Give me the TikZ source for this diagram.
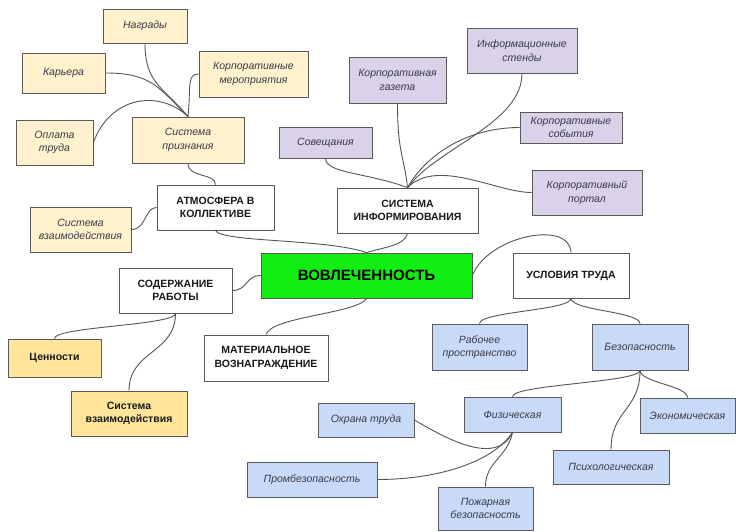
\documentclass[tikz,border=0pt]{standalone}
\usepackage{fontspec}
\setmainfont{Liberation Sans}
\definecolor{yelL}{HTML}{FFF2CC}
\definecolor{orgB}{HTML}{FFE599}
\definecolor{purL}{HTML}{D9D2E9}
\definecolor{bluL}{HTML}{C9DAF8}
\definecolor{grnB}{HTML}{11EE11}
\definecolor{bordcol}{HTML}{5A5A5A}
\definecolor{conncol}{HTML}{555555}
\definecolor{itcol}{HTML}{3A3A4A}
\tikzset{
  box/.style={draw=bordcol, line width=0.8pt, align=center, inner sep=2pt},
  itbox/.style={box, text=itcol, font=\itshape\fontsize{10.5}{13.5}\selectfont},
  bfbox/.style={box, text=black!90, font=\bfseries\fontsize{10.5}{13.5}\selectfont},
  yleaf/.style={itbox, fill=yelL},
  pleaf/.style={itbox, fill=purL},
  bleaf/.style={itbox, fill=bluL},
  oleaf/.style={bfbox, fill=orgB},
  wcat/.style={bfbox, fill=white},
  conn/.style={draw=conncol, line width=0.9pt},
}
\begin{document}
\begin{tikzpicture}[x=1pt,y=-1pt]
\useasboundingbox[fill=white] (0,0) rectangle (736,532);
% yellow branch
\node[yleaf, minimum width=84pt, minimum height=34pt] (nagr) at (145,26) {Награды};
\node[yleaf, minimum width=83pt, minimum height=40pt] (karj) at (63.5,73) {Карьера};
\node[yleaf, minimum width=109pt, minimum height=46pt] (korpmer) at (253.5,74) {Корпоративные\\мероприятия};
\node[yleaf, minimum width=77pt, minimum height=45pt] (oplata) at (54.5,142.5) {Оплата\\труда};
\node[yleaf, minimum width=112pt, minimum height=46pt] (sistpriz) at (188,140) {Система\\признания};
\node[wcat, minimum width=117pt, minimum height=45pt] (atm) at (215.5,207.5) {АТМОСФЕРА В\\КОЛЛЕКТИВЕ};
\node[yleaf, minimum width=101pt, minimum height=45pt] (sistvzA) at (80.5,229.5) {Система\\взаимодействия};
% purple branch
\node[pleaf, minimum width=93pt, minimum height=31pt] (sov) at (325.5,142.5) {Совещания};
\node[pleaf, minimum width=97pt, minimum height=46pt] (gaz) at (397.5,80) {Корпоративная\\газета};
\node[pleaf, minimum width=110pt, minimum height=45pt] (stend) at (522,50.5) {Информационные\\стенды};
\node[pleaf, minimum width=102pt, minimum height=31pt] (sob) at (571,127.5) {Корпоративные\\события};
\node[pleaf, minimum width=110pt, minimum height=45pt] (port) at (587,192.5) {Корпоративный\\портал};
\node[wcat, minimum width=141pt, minimum height=45pt] (sinf) at (407.5,210.5) {СИСТЕМА\\ИНФОРМИРОВАНИЯ};
% centre
\node[box, fill=grnB, text=black, font=\bfseries\fontsize{15}{17}\selectfont, minimum width=211pt, minimum height=45pt] (vovl) at (366.5,275.5) {ВОВЛЕЧЕННОСТЬ};
% left lower
\node[wcat, minimum width=113pt, minimum height=45pt] (sod) at (175.5,290.5) {СОДЕРЖАНИЕ\\РАБОТЫ};
\node[oleaf, minimum width=93pt, minimum height=38pt] (cenn) at (54.5,358) {Ценности};
\node[oleaf, minimum width=116pt, minimum height=45pt] (sistvzB) at (129,413.5) {Система\\взаимодействия};
\node[wcat, minimum width=124pt, minimum height=46pt] (mat) at (266,358) {МАТЕРИАЛЬНОЕ\\ВОЗНАГРАЖДЕНИЕ};
% blue branch
\node[wcat, minimum width=116pt, minimum height=45pt] (usl) at (571,275.5) {УСЛОВИЯ ТРУДА};
\node[bleaf, minimum width=95pt, minimum height=46pt] (rab) at (479.5,347) {Рабочее\\пространство};
\node[bleaf, minimum width=96pt, minimum height=46pt] (bez) at (640,347) {Безопасность};
\node[bleaf, minimum width=97pt, minimum height=35pt] (fiz) at (512.5,414.5) {Физическая};
\node[bleaf, minimum width=96pt, minimum height=34pt] (ohr) at (366,420) {Охрана труда};
\node[bleaf, minimum width=95pt, minimum height=35pt] (ekon) at (687.5,415.5) {Экономическая};
\node[bleaf, minimum width=116pt, minimum height=34pt] (psih) at (611,467) {Психологическая};
\node[bleaf, minimum width=130pt, minimum height=35pt] (prom) at (312,479.5) {Промбезопасность};
\node[bleaf, minimum width=95pt, minimum height=43pt] (pozh) at (485.5,508.5) {Пожарная\\безопасность};
% connectors
\draw[conn] (nagr.south) .. controls +(0,40) and +(-25,-30) .. (sistpriz.north);
\draw[conn] (karj.east) .. controls +(45,0) and +(-30,-30) .. (sistpriz.north);
\draw[conn] (korpmer.west) .. controls +(-12,0) and +(3,-30) .. (sistpriz.north);
\draw[conn] (oplata.east) .. controls +(17,-47) and +(-28,-27) .. (sistpriz.north);
\draw[conn] (sistpriz.south) .. controls +(0,15) and +(0,-12) .. (atm.north);
\draw[conn] (sistvzA.east) .. controls +(15,0) and +(-12,0) .. (atm.west);
\draw[conn] (atm.south) .. controls +(5,12) and +(-40,-14) .. (vovl.north);
\draw[conn] (sinf.south) .. controls +(-3,12) and +(20,-6) .. (vovl.north);
\draw[conn] (sov.south) .. controls +(0,15) and +(-40,-15) .. (sinf.north);
\draw[conn] (gaz.south) .. controls +(0,50) and +(-3,-30) .. (sinf.north);
\draw[conn] (stend.south) .. controls +(0,50) and +(30,-40) .. (sinf.north);
\draw[conn] (sob.west) .. controls +(-50,0) and +(20,-35) .. (sinf.north);
\draw[conn] (port.west) .. controls +(-35,0) and +(30,-30) .. (sinf.north);
\draw[conn] (vovl.east) .. controls +(16,-40) and +(-1,-33) .. (usl.north);
\draw[conn] (usl.south) .. controls +(0,12) and +(0,-12) .. (rab.north);
\draw[conn] (usl.south) .. controls +(0,12) and +(0,-12) .. (bez.north);
\draw[conn] (bez.south) .. controls +(0,12) and +(0,-12) .. (fiz.north);
\draw[conn] (bez.south) .. controls +(0,12) and +(0,-12) .. (ekon.north);
\draw[conn] (bez.south) .. controls +(0,40) and +(0,-40) .. (psih.north);
\draw[conn] (ohr.east) .. controls +(26,15) and +(-17,36) .. (fiz.south);
\draw[conn] (prom.east) .. controls +(60,0) and +(-20,30) .. (fiz.south);
\draw[conn] (pozh.north) .. controls +(0,-25) and +(-5,25) .. (fiz.south);
\draw[conn] (sod.east) .. controls +(15,0) and +(-15,0) .. (vovl.west);
\draw[conn] (vovl.south) .. controls +(-8,15) and +(5,-18) .. (mat.north);
\draw[conn] (sod.south) .. controls +(0,12) and +(0,-12) .. (cenn.north);
\draw[conn] (sod.south) .. controls +(0,40) and +(0,-40) .. (sistvzB.north);
\end{tikzpicture}
\end{document}
